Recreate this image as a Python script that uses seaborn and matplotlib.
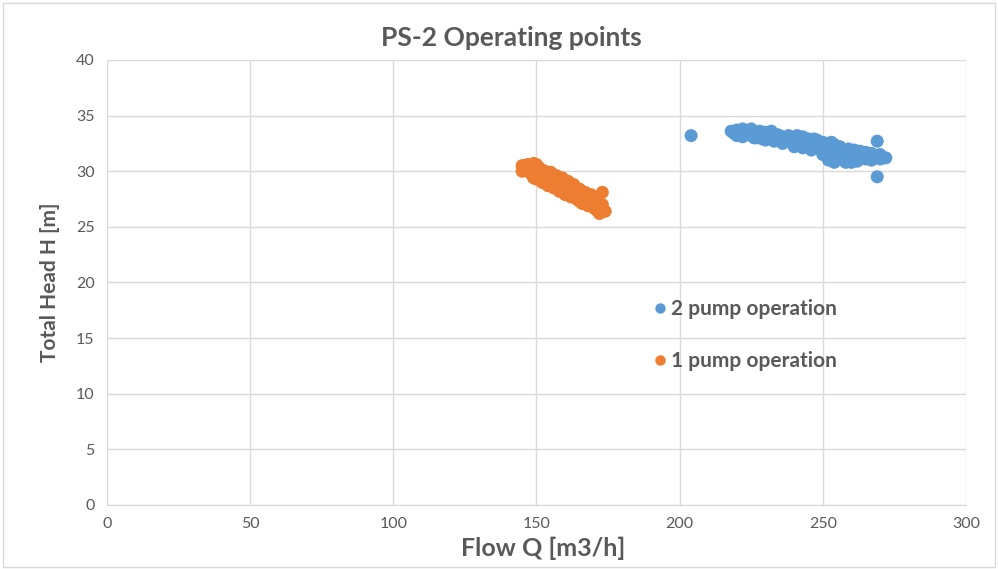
import matplotlib
matplotlib.use("Agg")
import matplotlib.pyplot as plt
import seaborn as sns
import pandas as pd
from matplotlib.patches import Rectangle

# ---- data ----
two_pump_q = [204, 218, 219, 220, 220, 221, 222, 222, 223, 224, 225, 225, 226, 227, 228, 228, 229, 230,
              231, 232, 232, 233, 234, 235, 235, 236, 237, 238, 238, 239, 240, 241, 241, 242, 243, 243,
              244, 245, 245, 246, 247, 247, 248, 248, 249, 250, 250, 251, 252, 252, 253, 253, 254, 254,
              255, 255, 256, 256, 257, 257, 258, 258, 259, 259, 260, 260, 261, 261, 262, 262, 263, 263,
              264, 265, 265, 266, 267, 267, 268, 269, 269, 270, 270, 271, 272,
              230, 233, 236, 240, 243, 246, 250, 252, 254, 226, 229, 232]
two_pump_h = [33.2, 33.6, 33.4, 33.7, 33.2, 33.5, 33.8, 33.1, 33.4, 33.6, 33.2, 33.8, 33.4, 33.0, 33.6, 33.3, 33.1, 33.5,
              33.2, 33.4, 32.9, 33.1, 33.3, 32.8, 33.2, 33.0, 32.7, 33.2, 32.9, 32.6, 33.0, 32.8, 33.2, 32.5, 32.9, 33.1,
              32.7, 32.4, 32.9, 32.6, 32.2, 32.9, 32.8, 32.4, 32.0, 32.6, 32.2, 31.8, 32.5, 31.5, 32.1, 32.6, 31.8, 32.4,
              31.3, 32.0, 31.6, 32.2, 31.0, 31.8, 30.8, 31.5, 32.0, 31.2, 30.8, 31.6, 31.9, 31.2, 30.9, 31.5, 31.8, 31.1,
              31.4, 31.1, 31.7, 31.3, 31.0, 31.6, 31.2, 32.7, 29.5, 31.1, 31.5, 31.2, 31.2,
              32.8, 32.7, 32.5, 32.2, 32.1, 31.9, 31.5, 31.0, 30.8, 33.0, 32.9, 33.6]

one_pump_q = [145, 145, 146, 146, 147, 147, 148, 148, 149, 149, 150, 150, 151, 151, 152, 152, 153, 153,
              154, 154, 155, 155, 156, 156, 157, 157, 158, 158, 159, 159, 160, 160, 161, 161, 162, 162,
              163, 163, 164, 164, 165, 165, 166, 166, 167, 167, 168, 168, 169, 169, 170, 170, 171, 171,
              172, 172, 173, 173, 173, 174, 150, 152, 155, 158]
one_pump_h = [30.5, 30.0, 30.3, 30.5, 30.6, 30.1, 29.8, 30.4, 30.7, 29.4, 30.2, 29.3, 29.7, 30.3, 29.0, 29.4, 30.0, 29.1,
              28.7, 29.6, 29.9, 28.9, 28.5, 29.4, 29.6, 28.7, 28.2, 29.1, 29.4, 28.5, 27.9, 28.9, 29.1, 28.2, 27.7, 28.6,
              28.8, 27.9, 27.5, 28.3, 28.4, 27.3, 27.8, 27.1, 28.1, 27.4, 26.9, 27.6, 27.9, 27.1, 26.7, 27.4, 27.2, 26.5,
              26.2, 26.9, 27.0, 26.5, 28.1, 26.4, 30.6, 30.1, 29.5, 28.9]

series_names = ["2 pump operation", "1 pump operation"]
series_colors = ["#5B9BD5", "#ED7D31"]
x_ticks = [0, 50, 100, 150, 200, 250, 300]
y_ticks = [0, 5, 10, 15, 20, 25, 30, 35, 40]

df = pd.concat([
    pd.DataFrame({"Q": two_pump_q, "H": two_pump_h, "series": series_names[0]}),
    pd.DataFrame({"Q": one_pump_q, "H": one_pump_h, "series": series_names[1]}),
])

sns.set_style("white")
plt.rcParams["font.family"] = ["Lato", "DejaVu Sans"]
text_color = "#595959"

fig = plt.figure(figsize=(9.98, 5.69), dpi=100)
ax = fig.add_axes([0.1072, 0.1125, 0.8607, 0.7821])

sns.scatterplot(data=df, x="Q", y="H", hue="series", hue_order=series_names,
                palette=series_colors, s=88, edgecolor="none", linewidth=0, alpha=1,
                ax=ax, zorder=3)

ax.set_xlim(0, 300)
ax.set_ylim(0, 40)
ax.set_xticks(x_ticks)
ax.set_yticks(y_ticks)
ax.grid(True, color="#D9D9D9", linewidth=1)
ax.set_axisbelow(True)
for side in ["top", "right", "left"]:
    ax.spines[side].set_visible(False)
ax.spines["bottom"].set_color("#D9D9D9")
ax.tick_params(axis="both", length=0, labelsize=11.5, colors=text_color, pad=9)

ax.set_xlabel("Flow Q [m3/h]", fontsize=18, fontweight="bold", color=text_color)
ax.xaxis.set_label_coords(0.5076, -0.072)
ax.set_ylabel("Total Head H [m]", fontsize=15, fontweight="bold", color=text_color)
ax.yaxis.set_label_coords(-0.0545, 0.5)
ax.set_title("PS-2 Operating points", fontsize=19, fontweight="bold", color=text_color,
             pad=10, x=0.471)

leg = ax.legend(loc="center left", bbox_to_anchor=(0.634, 0.382), frameon=False,
                labelspacing=1.55, handlelength=0.8, handletextpad=0.15, markerscale=0.8,
                borderpad=0, borderaxespad=0,
                prop={"weight": "bold", "size": 15})
for t in leg.get_texts():
    t.set_color(text_color)

fig.patches.append(Rectangle((0.003, 0.004), 0.994, 0.99, transform=fig.transFigure,
                             fill=False, edgecolor="#D9D9D9", linewidth=1))

fig.savefig("out.png", dpi=100)
